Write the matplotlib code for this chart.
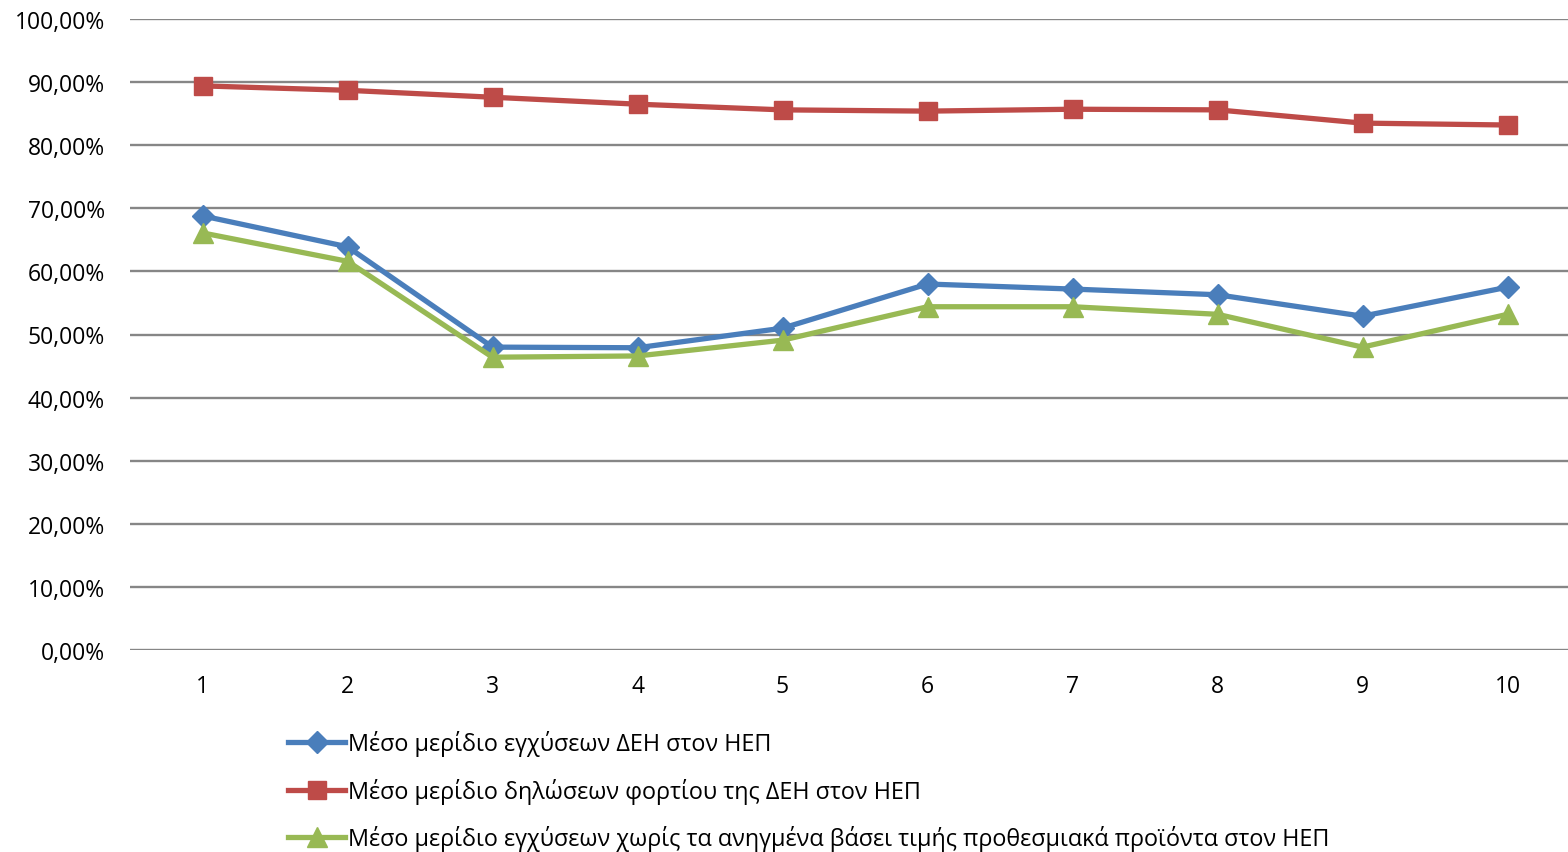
import matplotlib
matplotlib.use("Agg")
import matplotlib.pyplot as plt
from matplotlib.ticker import FuncFormatter

plt.rcParams['font.family'] = ['Open Sans', 'DejaVu Sans']

categories = [1, 2, 3, 4, 5, 6, 7, 8, 9, 10]
blue_vals = [68.8, 63.9, 48.0, 47.9, 51.0, 58.0, 57.2, 56.3, 52.9, 57.5]
red_vals = [89.4, 88.7, 87.6, 86.5, 85.6, 85.4, 85.7, 85.6, 83.5, 83.2]
green_vals = [66.1, 61.6, 46.4, 46.6, 49.1, 54.4, 54.4, 53.2, 48.0, 53.2]
labels = [
    "Μέσο μερίδιο εγχύσεων ΔΕΗ στον ΗΕΠ",
    "Μέσο μερίδιο δηλώσεων φορτίου της ΔΕΗ στον ΗΕΠ",
    "Μέσο μερίδιο εγχύσεων χωρίς τα ανηγμένα βάσει τιμής προθεσμιακά προϊόντα στον ΗΕΠ",
]
yticks = [0, 10, 20, 30, 40, 50, 60, 70, 80, 90, 100]

W, H = 1568, 853
fig = plt.figure(figsize=(W / 100, H / 100), dpi=100)
left, right, top, bottom = 130, 1580, 20, 651
ax = fig.add_axes([left / W, 1 - bottom / H, (right - left) / W, (bottom - top) / H])

ax.plot(categories, blue_vals, color='#4a7ebb', lw=3.8, marker='D', ms=11, label=labels[0], zorder=3)
ax.plot(categories, red_vals, color='#be4b48', lw=3.8, marker='s', ms=13, label=labels[1], zorder=3)
ax.plot(categories, green_vals, color='#98b954', lw=3.8, marker='^', ms=14, label=labels[2], zorder=3)

ax.set_xlim(0.5, 10.5)
ax.set_ylim(0, 100)
ax.set_yticks(yticks)
ax.yaxis.set_major_formatter(FuncFormatter(lambda v, p: f"{v:.2f}".replace('.', ',') + '%'))
ax.set_xticks(categories)
ax.set_xticklabels([str(c) for c in categories])
ax.grid(axis='y', color='#868686', lw=1.7)
ax.set_axisbelow(True)
for s in ax.spines.values():
    s.set_visible(False)
ax.tick_params(axis='both', length=0, labelsize=16.5, colors='black')
ax.tick_params(axis='y', pad=18)
ax.tick_params(axis='x', pad=17)

fig.legend(loc='upper left', bbox_to_anchor=(288 / W, 1 - 731 / H), frameon=False,
           fontsize=16.8, handlelength=2.45, handletextpad=0.1, labelspacing=0.93,
           borderaxespad=0, borderpad=0)

fig.savefig('out.png', dpi=100)
